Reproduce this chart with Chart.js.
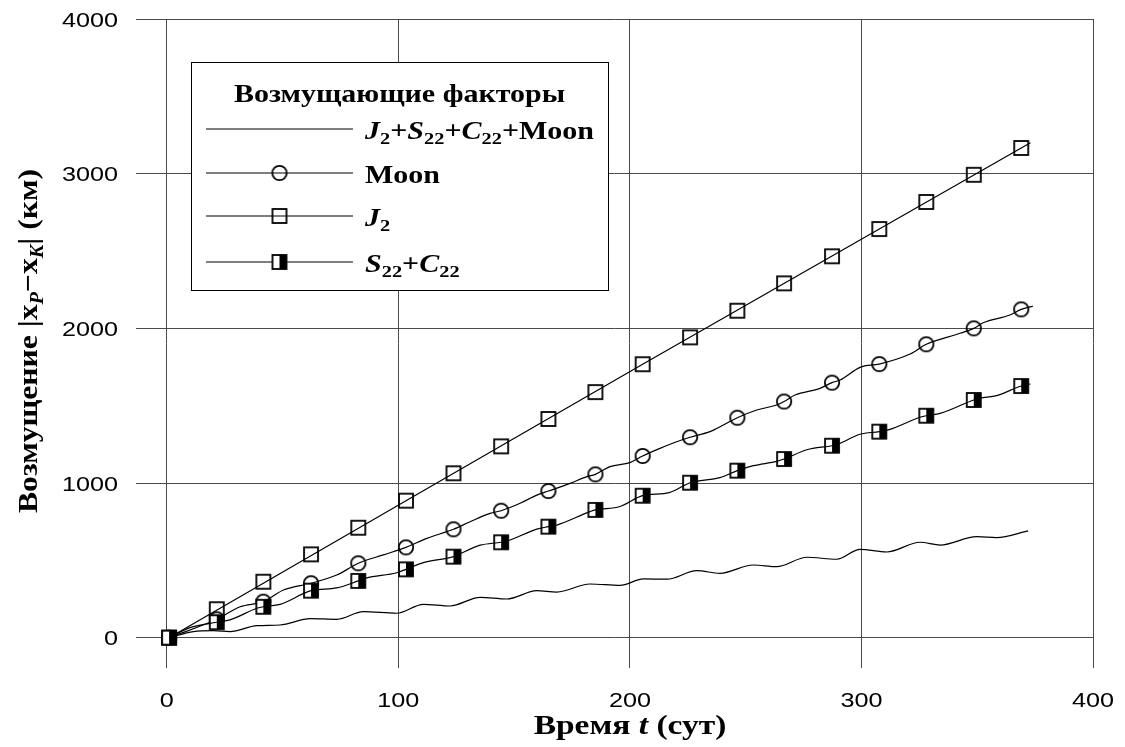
<!DOCTYPE html>
<html>
<head>
<meta charset="utf-8">
<script src="https://cdn.jsdelivr.net/npm/chart.js@4.4.1/dist/chart.umd.min.js"></script>
<style>
  body { margin: 0; background: #fff; }
  canvas { display: block; }
</style>
</head>
<body>
<canvas id="chart" width="1125" height="747"></canvas>
<script>
// Days where markers sit
const markDays = [1, 21.6, 41.7, 62.3, 82.7, 103.3, 123.8, 144.4, 164.8, 185.1, 205.5, 226, 246.4, 266.6, 287.3, 307.7, 328, 348.5, 369];
const moonMarks = [0, 119, 233, 352, 481, 584, 701, 821, 948, 1056, 1175, 1296, 1422, 1527, 1649, 1769, 1897, 2000, 2123];
const j2Marks = [0, 184, 362, 539, 711, 886, 1063, 1237, 1414, 1588, 1768, 1942, 2114, 2291, 2466, 2642, 2817, 2993, 3166];
const s22Marks = [0, 100, 200, 304, 367, 442, 524, 617, 718, 826, 918, 1002, 1080, 1155, 1241, 1332, 1435, 1537, 1627];

// Full curves
const sumDays = [1, 11.5, 20.1, 27.3, 38.9, 48.9, 61.9, 73.4, 84.9, 99.3, 110.8, 122.3, 135.3, 146.8, 159.8, 168.4, 182.8, 195.7, 206, 216, 228.9, 238.9, 253.3, 263.4, 276.4, 289.3, 299.4, 310.9, 325.3, 334, 349.8, 358.4, 372];
const sumVals = [0, 39, 45, 39, 78, 82, 123, 119, 168, 158, 216, 205, 261, 250, 304, 295, 347, 338, 380, 378, 433, 416, 470, 459, 520, 507, 571, 554, 617, 599, 653, 647, 690];

const moonDays = [1, 21.6, 31.7, 41.7, 50.4, 62.3, 73.4, 82.7, 93.5, 103.3, 112.3, 123.8, 131, 139.6, 144.4, 152.6, 159.8, 164.8, 174.2, 181.4, 185.1, 191.4, 200, 205.5, 213, 220.2, 226, 234.6, 240.4, 246.4, 254.8, 263.4, 266.6, 271.3, 282.1, 287.3, 290.8, 299.4, 307.7, 321, 328, 342.6, 348.5, 352.6, 364.1, 369, 374];
const moonVals = [0, 119, 200, 233, 308, 352, 405, 481, 535, 584, 642, 701, 750, 804, 821, 869, 922, 948, 998, 1041, 1056, 1106, 1132, 1175, 1224, 1267, 1296, 1332, 1375, 1422, 1472, 1504, 1527, 1569, 1612, 1649, 1666, 1748, 1769, 1834, 1897, 1968, 2000, 2036, 2086, 2123, 2144];

const j2Days = [1, 103.3, 205.5, 307.7, 369, 373];
const j2Vals = [0, 886, 1768, 2642, 3166, 3200];

const s22Days = [1, 10, 21.6, 27.3, 38.9, 41.7, 48.9, 62.3, 73.4, 82.7, 86, 99.3, 103.3, 110.8, 122.3, 123.8, 135.3, 144.4, 147, 159.8, 164.8, 168.4, 182.8, 185.1, 195.7, 205.5, 217, 226, 229, 238.9, 246.4, 253.3, 263.4, 266.6, 276.4, 287.3, 289.3, 299.4, 307.7, 312, 325.3, 328, 334, 348.5, 351, 358.4, 369, 373];
const s22Vals = [0, 65, 100, 115, 190, 200, 215, 304, 322, 367, 385, 420, 442, 485, 518, 524, 598, 617, 625, 702, 718, 728, 815, 826, 848, 918, 938, 1002, 1012, 1035, 1080, 1112, 1140, 1155, 1215, 1241, 1248, 1315, 1332, 1345, 1425, 1435, 1450, 1537, 1548, 1565, 1627, 1640];

const xTicks = [0, 100, 200, 300, 400];
const yTicks = [0, 1000, 2000, 3000, 4000];

const SERIF = '"Liberation Serif", "Times New Roman", serif';
const SANS = '"Liberation Sans", Arial, sans-serif';
const SX = 1.2; // text runs a little wider than the plain font

function pts(xs, ys) {
  return xs.map((x, i) => ({ x: x, y: ys[i] }));
}

// marker bitmaps
function markerCanvas(kind) {
  const c = document.createElement('canvas');
  c.width = 18; c.height = 18;
  const g = c.getContext('2d');
  g.lineWidth = 1.8;
  g.strokeStyle = '#000';
  if (kind === 'circle') {
    g.beginPath();
    g.arc(9, 9, 7.2, 0, Math.PI * 2);
    g.stroke();
  } else if (kind === 'square') {
    g.strokeRect(2, 2, 14, 14);
  } else {
    g.fillStyle = '#fff';
    g.fillRect(2, 2, 14, 14);
    g.fillStyle = '#000';
    g.fillRect(9, 2, 7, 14);
    g.strokeRect(2, 2, 14, 14);
  }
  return c;
}
const circleImg = markerCanvas('circle');
const squareImg = markerCanvas('square');
const halfImg = markerCanvas('half');

// text made of runs: b = bold, bi = bold italic, s = subscript, si = italic subscript
function isSub(style) { return style === 's' || style === 'si'; }
function runFont(style, size) {
  const sz = isSub(style) ? Math.round(size * 0.66) : size;
  const it = style === 'bi' || style === 'si' ? 'italic ' : '';
  return it + 'bold ' + sz + 'px ' + SERIF;
}
function runsWidth(ctx, runs, size) {
  let w = 0;
  runs.forEach(r => { ctx.font = runFont(r[1], size); w += ctx.measureText(r[0]).width; });
  return w;
}
// draws at the current transform origin
function drawRuns(ctx, runs, size, align) {
  let cx = align === 'center' ? -runsWidth(ctx, runs, size) / 2 : 0;
  ctx.textBaseline = 'alphabetic';
  ctx.textAlign = 'left';
  ctx.fillStyle = '#000';
  runs.forEach(r => {
    ctx.font = runFont(r[1], size);
    const dy = isSub(r[1]) ? size * 0.2 : 0;
    ctx.fillText(r[0], cx, dy);
    cx += ctx.measureText(r[0]).width;
  });
}
function drawRunsAt(ctx, runs, x, y, size, align, sx) {
  ctx.save();
  ctx.translate(x, y);
  ctx.scale(sx || SX, 1);
  drawRuns(ctx, runs, size, align);
  ctx.restore();
}
function stretchText(ctx, text, x, y, font, align) {
  ctx.save();
  ctx.translate(x, y);
  ctx.scale(SX, 1);
  ctx.font = font;
  ctx.fillStyle = '#000';
  ctx.textAlign = align;
  ctx.textBaseline = 'alphabetic';
  ctx.fillText(text, 0, 0);
  ctx.restore();
}

const legendRows = [
  { img: null, runs: [['J', 'bi'], ['2', 's'], ['+', 'b'], ['S', 'bi'], ['22', 's'], ['+', 'b'], ['C', 'bi'], ['22', 's'], ['+Moon', 'b']] },
  { img: circleImg, runs: [['Moon', 'b']] },
  { img: squareImg, runs: [['J', 'bi'], ['2', 's']] },
  { img: halfImg, runs: [['S', 'bi'], ['22', 's'], ['+', 'b'], ['C', 'bi'], ['22', 's']] }
];

const overlay = {
  id: 'overlay',
  afterDraw(chart) {
    const ctx = chart.ctx;
    const xs = chart.scales.x, ys = chart.scales.y;
    ctx.save();

    // tick labels
    const tickFont = '21px ' + SANS;
    xTicks.forEach(v => stretchText(ctx, String(v), xs.getPixelForValue(v), 707, tickFont, 'center'));
    yTicks.forEach(v => stretchText(ctx, String(v), 118, ys.getPixelForValue(v) + 7.5, tickFont, 'right'));

    // legend box
    const bx = 191, by = 62, bw = 417, bh = 228;
    ctx.fillStyle = '#fff';
    ctx.fillRect(bx, by, bw, bh);
    ctx.strokeStyle = '#000';
    ctx.lineWidth = 1;
    ctx.strokeRect(bx + 0.5, by + 0.5, bw, bh);
    drawRunsAt(ctx, [['Возмущающие факторы', 'b']], bx + bw / 2, 102, 25, 'center');
    const rowY = [129, 173, 216, 262];
    legendRows.forEach((row, i) => {
      const y = rowY[i];
      ctx.strokeStyle = '#000';
      ctx.lineWidth = 1.2;
      ctx.beginPath();
      ctx.moveTo(206, y);
      ctx.lineTo(353, y);
      ctx.stroke();
      if (row.img) ctx.drawImage(row.img, 279.5 - 9, y - 9);
      drawRunsAt(ctx, row.runs, 365, y + 10, 25, 'left');
    });

    // axis titles
    drawRunsAt(ctx, [['Время ', 'b'], ['t', 'bi'], [' (сут)', 'b']], 630, 734, 27, 'center', 1.24);
    ctx.translate(37, 341);
    ctx.rotate(-Math.PI / 2);
    ctx.scale(1.13, 1);
    drawRuns(ctx, [['Возмущение |x', 'b'], ['P', 'si'], ['−x', 'b'], ['K', 'si'], ['| (км)', 'b']], 28, 'center');
    ctx.restore();
  }
};

const gridOpts = { color: '#4a4a4a', lineWidth: 1, drawTicks: false };

new Chart(document.getElementById('chart'), {
  type: 'line',
  data: {
    datasets: [
      { data: pts(s22Days, s22Vals), borderColor: '#000', borderWidth: 1.2, pointRadius: 0, cubicInterpolationMode: 'monotone', order: 0 },
      { data: pts(markDays, s22Marks), showLine: false, pointStyle: halfImg, pointRadius: 8, order: 1 },
      { data: pts(markDays, moonMarks), showLine: false, pointStyle: circleImg, pointRadius: 8, order: 2 },
      { data: pts(moonDays, moonVals), borderColor: '#000', borderWidth: 1.2, pointRadius: 0, cubicInterpolationMode: 'monotone', order: 3 },
      { data: pts(markDays, j2Marks), showLine: false, pointStyle: squareImg, pointRadius: 8, order: 4 },
      { data: pts(j2Days, j2Vals), borderColor: '#000', borderWidth: 1.2, pointRadius: 0, order: 5 },
      { data: pts(sumDays, sumVals), borderColor: '#000', borderWidth: 1.2, pointRadius: 0, cubicInterpolationMode: 'monotone', order: 6 }
    ]
  },
  options: {
    responsive: false,
    animation: false,
    layout: { padding: { top: 19, right: 32, left: 0, bottom: 0 } },
    plugins: { legend: { display: false }, tooltip: { enabled: false } },
    scales: {
      x: {
        type: 'linear', min: -13.3, max: 400,
        grid: gridOpts,
        border: { display: false },
        ticks: { display: false },
        afterBuildTicks: s => { s.ticks = xTicks.map(v => ({ value: v })); },
        afterFit: s => { s.height = 79; s.paddingLeft = 0; s.paddingRight = 0; }
      },
      y: {
        type: 'linear', min: -196, max: 4000,
        grid: gridOpts,
        border: { display: false },
        ticks: { display: false },
        afterBuildTicks: s => { s.ticks = yTicks.map(v => ({ value: v })); },
        afterFit: s => { s.width = 136; s.paddingTop = 0; s.paddingBottom = 0; }
      }
    }
  },
  plugins: [overlay]
});
</script>
</body>
</html>
